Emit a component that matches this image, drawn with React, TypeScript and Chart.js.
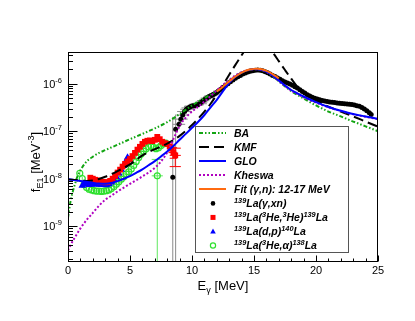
import React, { useEffect, useRef } from "react";
import { Chart, registerables } from "chart.js";

Chart.register(...registerables);

const W = 415;
const H = 321;
const FONT = "'Liberation Sans', Arial, Helvetica, sans-serif";

// ---------------- axis definitions ----------------
const xMin = 0;
const xMax = 25;
const yMin = 1.76e-10;
const yMax = 4.67e-6;
const xMajorTicks = [0, 5, 10, 15, 20, 25];
const xMajorLabels = ["0", "5", "10", "15", "20", "25"];
const xMinorTicks = [1, 2, 3, 4, 6, 7, 8, 9, 11, 12, 13, 14, 16, 17, 18, 19, 21, 22, 23, 24];
const yMajorTicks = [1e-9, 1e-8, 1e-7, 1e-6];
const yMajorLabels = ["10^{-9}", "10^{-8}", "10^{-7}", "10^{-6}"];
const xTitle = "E_{γ} [MeV]";
const yTitle = "f_{E1} [MeV^{-3}]";

// ---------------- model curves ----------------
const baE = [0, 0.1, 0.2, 0.35, 0.5, 0.75, 1.0, 1.5, 2.0, 2.5, 3, 4, 5, 6, 7, 8, 9, 10, 11, 12, 12.5, 13, 13.5, 14, 14.5, 15, 15.5, 16, 16.5, 17, 17.5, 18, 19, 20, 21, 22, 23, 24, 25];
const baF = [1.5e-9, 2.3e-9, 3.3e-9, 4.9e-9, 6.8e-9, 1.1e-8, 1.5e-8, 2.3e-8, 2.9e-8, 3.5e-8, 4.0e-8, 5.2e-8, 6.8e-8, 8.8e-8, 1.15e-7, 1.55e-7, 2.3e-7, 3.5e-7, 5.0e-7, 7.0e-7, 9.0e-7, 1.15e-6, 1.45e-6, 1.72e-6, 1.92e-6, 2.02e-6, 1.98e-6, 1.78e-6, 1.45e-6, 1.12e-6, 8.8e-7, 7.0e-7, 4.9e-7, 3.5e-7, 2.6e-7, 2.05e-7, 1.6e-7, 1.27e-7, 1.0e-7];

const kmfE = [0, 0.5, 1, 1.5, 2, 2.5, 3, 3.5, 4, 5, 6, 7, 8, 9, 10, 11, 11.5, 12, 12.5, 13, 13.5, 14, 14.5, 15, 15.5, 16, 16.5, 17, 17.5, 18, 18.5, 19, 19.5, 20, 21, 22, 23, 24, 25];
const kmfF = [9.8e-9, 9.4e-9, 9.1e-9, 9.0e-9, 9.2e-9, 9.9e-9, 1.1e-8, 1.25e-8, 1.45e-8, 2.0e-8, 3.1e-8, 4.2e-8, 5.5e-8, 8.0e-8, 1.35e-7, 2.6e-7, 3.8e-7, 5.9e-7, 9.5e-7, 1.55e-6, 2.5e-6, 4.0e-6, 6.2e-6, 8.0e-6, 8.0e-6, 6.5e-6, 4.6e-6, 3.0e-6, 1.95e-6, 1.28e-6, 8.6e-7, 6.4e-7, 5.2e-7, 4.4e-7, 3.3e-7, 2.6e-7, 2.05e-7, 1.6e-7, 1.25e-7];

const gloE = [0, 0.5, 1, 1.5, 2, 2.5, 3, 3.5, 4, 4.5, 5, 5.5, 6, 6.5, 7, 7.5, 8, 8.5, 9, 9.5, 10, 10.5, 11, 11.5, 12, 12.5, 13, 13.5, 14, 14.5, 15, 15.5, 16, 16.5, 17, 17.5, 18, 18.5, 19, 20, 21, 22, 23, 24, 25];
const gloF = [9.8e-9, 9.4e-9, 9.0e-9, 8.6e-9, 8.2e-9, 7.9e-9, 7.8e-9, 8.1e-9, 8.9e-9, 1.0e-8, 1.13e-8, 1.33e-8, 1.58e-8, 1.92e-8, 2.35e-8, 2.95e-8, 3.75e-8, 4.9e-8, 6.6e-8, 8.8e-8, 1.18e-7, 1.58e-7, 2.2e-7, 3.2e-7, 4.6e-7, 7.0e-7, 1.05e-6, 1.4e-6, 1.72e-6, 1.94e-6, 2.04e-6, 2.0e-6, 1.8e-6, 1.5e-6, 1.17e-6, 9.2e-7, 7.4e-7, 6.3e-7, 5.4e-7, 4.1e-7, 3.25e-7, 2.7e-7, 2.3e-7, 2.05e-7, 1.82e-7];

const khE = [0, 0.25, 0.5, 1, 1.5, 2, 2.5, 3, 3.5, 4, 4.5, 5, 5.5, 6, 6.5, 7, 7.5, 8, 8.5, 9, 9.5, 10, 10.5, 11, 11.5, 12, 12.5, 13, 13.5, 14, 14.5, 15, 15.5, 16, 16.5, 17, 17.5, 18, 18.5, 19, 20, 21, 22, 23, 24, 25];
const khF = [3.1e-10, 4.2e-10, 5.5e-10, 9.0e-10, 1.35e-9, 1.9e-9, 2.7e-9, 3.6e-9, 4.4e-9, 5.4e-9, 6.5e-9, 7.8e-9, 9.3e-9, 1.12e-8, 1.35e-8, 1.7e-8, 2.3e-8, 3.6e-8, 6.8e-8, 1.3e-7, 1.95e-7, 2.6e-7, 3.3e-7, 4.2e-7, 5.5e-7, 7.3e-7, 9.5e-7, 1.2e-6, 1.5e-6, 1.75e-6, 1.93e-6, 2.02e-6, 1.98e-6, 1.78e-6, 1.48e-6, 1.15e-6, 9.0e-7, 7.2e-7, 6.1e-7, 5.2e-7, 4.0e-7, 3.2e-7, 2.68e-7, 2.28e-7, 2.02e-7, 1.8e-7];

const fitE = [12, 12.25, 12.5, 12.75, 13, 13.25, 13.5, 13.75, 14, 14.25, 14.5, 14.75, 15, 15.25, 15.5, 15.75, 16, 16.25, 16.5, 16.75, 17];
const fitF = [6.9e-7, 7.7e-7, 8.7e-7, 9.9e-7, 1.12e-6, 1.27e-6, 1.42e-6, 1.57e-6, 1.72e-6, 1.85e-6, 1.95e-6, 2.02e-6, 2.06e-6, 2.07e-6, 2.04e-6, 1.97e-6, 1.87e-6, 1.74e-6, 1.6e-6, 1.45e-6, 1.3e-6];

// ---------------- data sets ----------------
// 139La(gamma,xn)
const xnE = [8.45, 8.68, 8.95, 9.1, 9.25, 9.4, 9.55, 9.7, 9.85, 10.0, 10.15, 10.3, 10.45, 10.6, 10.75, 10.9, 11.05, 11.2, 11.35, 11.5, 11.65, 11.8, 11.95, 12.1,
  12.3, 12.5, 12.7, 12.9, 13.1, 13.3, 13.5, 13.7, 13.9, 14.1, 14.3, 14.5, 14.7, 14.9, 15.1, 15.3, 15.5, 15.7, 15.9, 16.1, 16.3, 16.5, 16.7, 16.9, 17.1, 17.3, 17.5, 17.7, 17.9, 18.1, 18.3, 18.5, 18.7, 18.9, 19.1, 19.3, 19.5, 19.7, 19.9, 20.1, 20.3, 20.5, 20.7, 20.9, 21.1, 21.3, 21.5, 21.7, 21.9, 22.1, 22.3, 22.5, 22.7, 22.9, 23.1, 23.3, 23.5, 23.7, 23.9, 24.1, 24.3, 24.45];
const xnF = [1.07e-8, 1.1e-7, 1.4e-7, 1.8e-7, 2.2e-7, 2.6e-7, 2.9e-7, 3.1e-7, 3.3e-7, 3.4e-7, 3.45e-7, 3.5e-7, 3.6e-7, 3.8e-7, 4.1e-7, 4.4e-7, 4.7e-7, 5.0e-7, 5.3e-7, 5.6e-7, 5.8e-7, 6.1e-7, 6.5e-7, 7.0e-7,
  7.6e-7, 8.3e-7, 9.2e-7, 1.0e-6, 1.1e-6, 1.2e-6, 1.3e-6, 1.4e-6, 1.5e-6, 1.6e-6, 1.68e-6, 1.76e-6, 1.83e-6, 1.88e-6, 1.92e-6, 1.94e-6, 1.92e-6, 1.87e-6, 1.79e-6, 1.7e-6, 1.6e-6, 1.5e-6, 1.42e-6, 1.33e-6, 1.24e-6, 1.16e-6, 1.09e-6, 1.04e-6, 9.9e-7, 9.3e-7, 8.7e-7, 8.1e-7, 7.5e-7, 6.9e-7, 6.4e-7, 5.9e-7, 5.5e-7, 5.2e-7, 4.95e-7, 4.75e-7, 4.6e-7, 4.45e-7, 4.35e-7, 4.25e-7, 4.15e-7, 4.1e-7, 4.05e-7, 3.95e-7, 3.9e-7, 3.85e-7, 3.8e-7, 3.75e-7, 3.7e-7, 3.65e-7, 3.55e-7, 3.45e-7, 3.35e-7, 3.15e-7, 2.95e-7, 2.7e-7, 2.45e-7, 2.25e-7];
// errors of the first points (listed in order)
const xnSig = [1.9e-7, 1.15e-7, 3e-8, 3.5e-8, 4e-8, 4.5e-8, 5e-8, 5e-8, 5.5e-8, 5.5e-8, 5.5e-8, 5.5e-8, 6e-8, 6e-8, 6.5e-8, 7e-8, 7e-8, 7.5e-8, 8e-8, 8e-8, 8.5e-8, 9e-8, 9e-8, 1e-7];
const xnDx = [0, 0, 0.5, 0.55, 0.5, 0.6, 0.5, 0.55, 0.5, 0.6, 0.5, 0.55, 0.5, 0.6, 0.5, 0.5, 0.45, 0.5, 0.45, 0.5, 0.45, 0.4, 0.4, 0.4];

// 139La(3He,3He)139La
const heE = [1.8, 2.0, 2.2, 2.4, 2.6, 2.8, 3.0, 3.2, 3.4, 3.6, 3.8, 4.0, 4.2, 4.4, 4.6, 4.8, 5.0, 5.2, 5.4, 5.6, 5.8, 6.0, 6.2, 6.4, 6.6, 6.8, 7.0, 7.2, 7.4, 7.6, 7.8, 8.0, 8.2, 8.35, 8.5, 8.65];
const heF = [1.05e-8, 1.0e-8, 9.5e-9, 9.2e-9, 8.8e-9, 8.6e-9, 8.4e-9, 8.5e-9, 9.0e-9, 1.0e-8, 1.15e-8, 1.35e-8, 1.55e-8, 1.8e-8, 2.05e-8, 2.3e-8, 2.6e-8, 3.0e-8, 3.5e-8, 4.1e-8, 4.7e-8, 5.4e-8, 6.0e-8, 6.3e-8, 6.4e-8, 6.2e-8, 6.6e-8, 7.6e-8, 6.8e-8, 6.0e-8, 5.6e-8, 5.4e-8, 4.8e-8, 4.3e-8, 3.6e-8, 3.1e-8];
const heSig = [1.2e-9, 1.1e-9, 1.0e-9, 1.0e-9, 1.0e-9, 1.0e-9, 1.0e-9, 1.0e-9, 1.1e-9, 1.2e-9, 1.4e-9, 1.6e-9, 1.8e-9, 2.1e-9, 2.4e-9, 2.7e-9, 3.0e-9, 3.4e-9, 4.0e-9, 4.6e-9, 5.2e-9, 6.0e-9, 6.6e-9, 7.0e-9, 7.2e-9, 7.0e-9, 7.5e-9, 8.5e-9, 8.0e-9, 7.5e-9, 7.0e-9, 7.0e-9, 7.0e-9, 7.5e-9, 9.0e-9, 1.3e-8];
const heDx = [0, 0, 0, 0, 0, 0, 0, 0, 0, 0, 0, 0, 0, 0, 0, 0, 0, 0, 0, 0, 0, 0, 0, 0, 0, 0, 0, 0, 0, 0, 0, 0, 0, 0.25, 0.3, 0.45];

// 139La(d,p)140La
const dpE = [1.15, 1.3, 1.5, 1.7, 1.9, 2.1, 2.3, 2.5, 2.7, 2.9, 3.1, 3.3, 3.5, 3.7, 3.9, 4.1, 4.3, 4.5, 4.65, 4.8, 4.95];
const dpF = [7.2e-9, 7.8e-9, 7.6e-9, 7.4e-9, 7.5e-9, 7.7e-9, 7.6e-9, 7.5e-9, 7.5e-9, 7.4e-9, 7.3e-9, 7.7e-9, 8.4e-9, 9.5e-9, 1.1e-8, 1.3e-8, 1.55e-8, 1.9e-8, 2.3e-8, 2.8e-8, 2.5e-8];
const dpSig = [6e-10, 6e-10, 6e-10, 6e-10, 6e-10, 6e-10, 6e-10, 6e-10, 6e-10, 6e-10, 6e-10, 6e-10, 7e-10, 8e-10, 9e-10, 1.1e-9, 1.3e-9, 1.6e-9, 2.0e-9, 2.5e-9, 2.5e-9];

// 139La(3He,alpha)138La
const alE = [0.95, 1.15, 1.3, 1.5, 1.7, 1.9, 2.1, 2.3, 2.5, 2.7, 2.9, 3.1, 3.3, 3.5, 3.7, 3.9, 4.1, 4.3, 4.5, 4.7, 4.9, 5.1, 5.3, 5.5, 5.7, 5.9, 6.1, 6.3, 6.5, 6.7, 6.9, 7.1, 7.3, 7.5, 7.7, 7.9, 7.2];
const alF = [1.3e-8, 1.0e-8, 7.5e-9, 6.5e-9, 6.0e-9, 5.8e-9, 5.6e-9, 5.5e-9, 5.5e-9, 5.4e-9, 5.5e-9, 5.6e-9, 5.8e-9, 6.2e-9, 6.8e-9, 7.6e-9, 8.6e-9, 9.8e-9, 1.1e-8, 1.25e-8, 1.4e-8, 1.6e-8, 1.9e-8, 2.3e-8, 2.8e-8, 3.3e-8, 3.8e-8, 4.3e-8, 4.7e-8, 4.8e-8, 4.6e-8, 4.3e-8, 4.5e-8, 5.0e-8, 5.4e-8, 5.6e-8, 1.15e-8];
const alSig = [1.3e-9, 1.0e-9, 8e-10, 7e-10, 6e-10, 6e-10, 6e-10, 6e-10, 6e-10, 6e-10, 6e-10, 6e-10, 6e-10, 7e-10, 7e-10, 8e-10, 9e-10, 1.0e-9, 1.1e-9, 1.3e-9, 1.4e-9, 1.6e-9, 1.9e-9, 2.3e-9, 2.8e-9, 3.3e-9, 3.8e-9, 4.3e-9, 4.7e-9, 4.8e-9, 4.6e-9, 4.3e-9, 4.5e-9, 5.0e-9, 5.4e-9, 5.6e-9, 1.4e-8];
const alDx = [0, 0, 0, 0, 0, 0, 0, 0, 0, 0, 0, 0, 0, 0, 0, 0, 0, 0, 0, 0, 0, 0, 0, 0, 0, 0, 0, 0, 0, 0, 0, 0, 0, 0, 0, 0, 0.45];

// ---------------- legend ----------------
const legendLabels = ["BA", "KMF", "GLO", "Kheswa", "Fit (γ,n): 12-17 MeV", "^{139}La(γ,xn)", "^{139}La(^{3}He,^{3}He)^{139}La", "^{139}La(d,p)^{140}La", "^{139}La(^{3}He,α)^{138}La"];

// ---------------- styles ----------------
const C_BA = "#12a512";
const C_KMF = "#000000";
const C_GLO = "#0000ff";
const C_KH = "#b000c0";
const C_FIT = "#ff6a10";
const C_XN = "#000000";
const C_HE = "#ff0000";
const C_DP = "#0000ff";
const C_AL = "#2fe02f";
const D_BA = [4, 2, 1.5, 2, 1.5, 2];
const D_KMF = [10, 5];
const D_KH = [2, 2];

function pts(xs: number[], ys: number[]) {
  return xs.map((x, i) => ({ x, y: ys[i] }));
}

type Seg = { t: string; k: "n" | "sup" | "sub" };
function parseRich(s: string): Seg[] {
  const out: Seg[] = [];
  let i = 0;
  let buf = "";
  while (i < s.length) {
    const c = s[i];
    if ((c === "^" || c === "_") && s[i + 1] === "{") {
      if (buf) { out.push({ t: buf, k: "n" }); buf = ""; }
      const end = s.indexOf("}", i + 2);
      out.push({ t: s.slice(i + 2, end), k: c === "^" ? "sup" : "sub" });
      i = end + 1;
    } else {
      buf += c;
      i++;
    }
  }
  if (buf) out.push({ t: buf, k: "n" });
  return out;
}

function drawRich(ctx: CanvasRenderingContext2D, s: string, x: number, y: number, size: number, style: string, align: "left" | "center" | "right", color = "#000", supRaise = 0.42, subDrop = 0.28, scale = 0.7) {
  const segs = parseRich(s);
  const font = (sz: number) => `${style} ${sz}px ${FONT}`;
  let w = 0;
  const widths = segs.map((g) => {
    ctx.font = font(g.k === "n" ? size : size * scale);
    const m = ctx.measureText(g.t).width;
    w += m;
    return m;
  });
  let cx = align === "left" ? x : align === "center" ? x - w / 2 : x - w;
  ctx.textAlign = "left";
  ctx.textBaseline = "alphabetic";
  ctx.fillStyle = color;
  const base = y + size * 0.36;
  segs.forEach((g, i) => {
    const sz = g.k === "n" ? size : size * scale;
    ctx.font = font(sz);
    const yy = g.k === "sup" ? base - size * supRaise : g.k === "sub" ? base + size * subDrop : base;
    ctx.fillText(g.t, cx, yy);
    cx += widths[i];
  });
}

const errorBarPlugin = {
  id: "errorBars",
  beforeDatasetsDraw(chart: any) {
    const { ctx, chartArea: a } = chart;
    const xs = chart.scales.x;
    const ys = chart.scales.y;
    ctx.save();
    ctx.beginPath();
    ctx.rect(a.left, a.top, a.right - a.left, a.bottom - a.top);
    ctx.clip();
    chart.data.datasets.forEach((ds: any) => {
      if (!ds.errSig) return;
      ctx.strokeStyle = ds.errColor;
      ctx.lineWidth = 1;
      ds.data.forEach((p: any, i: number) => {
        const s = ds.errSig[i] || 0;
        const dx = (ds.errDx && ds.errDx[i]) || 0;
        const px = xs.getPixelForValue(p.x);
        const py = ys.getPixelForValue(p.y);
        ctx.beginPath();
        if (s > 0) {
          const hi = p.y + s;
          const lo = p.y - s;
          const yHi = ys.getPixelForValue(hi);
          const yLo = lo > yMin ? ys.getPixelForValue(lo) : a.bottom - 0.5;
          ctx.moveTo(px, yLo);
          ctx.lineTo(px, yHi);
          if (ds.errCaps && dx > 0) {
            const x0 = xs.getPixelForValue(p.x - dx);
            const x1 = xs.getPixelForValue(p.x + dx);
            ctx.moveTo(x0, yHi);
            ctx.lineTo(x1, yHi);
            ctx.moveTo(x0, yLo);
            ctx.lineTo(x1, yLo);
          }
        }
        if (dx > 0) {
          ctx.moveTo(xs.getPixelForValue(p.x - dx), py);
          ctx.lineTo(xs.getPixelForValue(p.x + dx), py);
        }
        ctx.stroke();
      });
    });
    ctx.restore();
  },
};

const axesPlugin = {
  id: "rootAxes",
  afterDatasetsDraw(chart: any) {
    const { ctx, chartArea: a } = chart;
    const xs = chart.scales.x;
    const ys = chart.scales.y;
    ctx.save();
    ctx.strokeStyle = "#000";
    ctx.lineWidth = 1;
    ctx.strokeRect(a.left + 0.5, a.top + 0.5, a.right - a.left - 1, a.bottom - a.top - 1);
    ctx.beginPath();
    const bx = a.bottom - 0.5;
    xMajorTicks.forEach((v) => {
      const px = Math.round(xs.getPixelForValue(v)) + 0.5;
      ctx.moveTo(px, bx);
      ctx.lineTo(px, bx - 6);
    });
    xMinorTicks.forEach((v) => {
      const px = Math.round(xs.getPixelForValue(v)) + 0.5;
      ctx.moveTo(px, bx);
      ctx.lineTo(px, bx - 3);
    });
    const lx = a.left + 0.5;
    yMajorTicks.forEach((v) => {
      const py = Math.round(ys.getPixelForValue(v)) + 0.5;
      ctx.moveTo(lx, py);
      ctx.lineTo(lx + 9, py);
    });
    for (let e = -10; e <= -6; e++) {
      for (let m = 2; m <= 9; m++) {
        const v = m * Math.pow(10, e);
        if (v <= yMin || v >= yMax) continue;
        const py = Math.round(ys.getPixelForValue(v)) + 0.5;
        ctx.moveTo(lx, py);
        ctx.lineTo(lx + 4.5, py);
      }
    }
    ctx.stroke();

    // tick labels
    ctx.fillStyle = "#000";
    ctx.font = `11px ${FONT}`;
    ctx.textAlign = "center";
    ctx.textBaseline = "middle";
    xMajorTicks.forEach((v, i) => {
      ctx.fillText(xMajorLabels[i], xs.getPixelForValue(v), a.bottom + 8.5);
    });
    yMajorTicks.forEach((v, i) => {
      drawRich(ctx, yMajorLabels[i], a.left - 6, ys.getPixelForValue(v), 11, "normal", "right", "#000", 0.45, 0.28, 0.68);
    });

    // titles
    drawRich(ctx, xTitle, (a.left + a.right) / 2, 285, 13, "normal", "center");
    ctx.save();
    ctx.translate(35, 162);
    ctx.rotate(-Math.PI / 2);
    drawRich(ctx, yTitle, 0, 0, 13, "normal", "center");
    ctx.restore();
    ctx.restore();
  },
  afterDraw(chart: any) {
    const ctx: CanvasRenderingContext2D = chart.ctx;
    const L = 195, T = 126, R = 348, B = 252;
    ctx.save();
    ctx.fillStyle = "#fff";
    ctx.fillRect(L + 0.5, T + 0.5, R - L, B - T);
    ctx.strokeStyle = "#555";
    ctx.lineWidth = 1;
    ctx.strokeRect(L + 0.5, T + 0.5, R - L, B - T);
    const rowY = (i: number) => 133.3 + i * 14.02;
    const lineSpec: [string, number[]][] = [[C_BA, D_BA], [C_KMF, D_KMF], [C_GLO, []], [C_KH, D_KH], [C_FIT, []]];
    lineSpec.forEach(([col, dash], i) => {
      const y = Math.round(rowY(i));
      ctx.beginPath();
      ctx.strokeStyle = col;
      ctx.lineWidth = 2;
      ctx.setLineDash(dash);
      ctx.moveTo(199, y);
      ctx.lineTo(226, y);
      ctx.stroke();
    });
    ctx.setLineDash([]);
    const mx = 213;
    // markers
    let y = rowY(5);
    ctx.fillStyle = C_XN;
    ctx.beginPath();
    ctx.arc(mx, y, 2.3, 0, Math.PI * 2);
    ctx.fill();
    y = rowY(6);
    ctx.fillStyle = C_HE;
    ctx.fillRect(mx - 2.5, y - 2.5, 5, 5);
    y = rowY(7);
    ctx.fillStyle = C_DP;
    ctx.beginPath();
    ctx.moveTo(mx, y - 3);
    ctx.lineTo(mx + 2.8, y + 2);
    ctx.lineTo(mx - 2.8, y + 2);
    ctx.closePath();
    ctx.fill();
    y = rowY(8);
    ctx.strokeStyle = C_AL;
    ctx.lineWidth = 1.2;
    ctx.beginPath();
    ctx.arc(mx, y, 2.6, 0, Math.PI * 2);
    ctx.stroke();

    legendLabels.forEach((t, i) => {
      drawRich(ctx, t, 234, rowY(i), 10.5, "italic bold", "left", "#000", 0.42, 0.28, 0.7);
    });
    ctx.restore();
  },
};

export default function App() {
  const ref = useRef<HTMLCanvasElement>(null);
  useEffect(() => {
    document.body.style.margin = "0";
    const curve = (label: string, E: number[], F: number[], color: string, dash: number[], order: number) => ({
      label,
      data: pts(E, F),
      showLine: true,
      borderColor: color,
      backgroundColor: color,
      borderWidth: 2,
      borderDash: dash,
      pointRadius: 0,
      fill: false,
      cubicInterpolationMode: "monotone",
      order,
      clip: 0,
    });
    const chart = new Chart(ref.current as HTMLCanvasElement, {
      type: "scatter",
      data: {
        datasets: [
          curve("Fit (γ,n): 12-17 MeV", fitE, fitF, C_FIT, [], 0),
          curve("GLO", gloE, gloF, C_GLO, [], 1),
          curve("Kheswa", khE, khF, C_KH, D_KH, 2),
          curve("KMF", kmfE, kmfF, C_KMF, D_KMF, 3),
          curve("BA", baE, baF, C_BA, D_BA, 4),
          {
            label: "139La(γ,xn)",
            data: pts(xnE, xnF),
            showLine: false,
            pointStyle: "circle",
            pointRadius: 2.5,
            backgroundColor: C_XN,
            borderColor: C_XN,
            borderWidth: 0,
            order: 5,
            errSig: xnSig,
            errDx: xnDx,
            errColor: "#8a8a8a",
            errCaps: false,
          } as any,
          {
            label: "139La(3He,3He)139La",
            data: pts(heE, heF),
            showLine: false,
            pointStyle: "rect",
            pointRadius: 4.1,
            backgroundColor: C_HE,
            borderColor: C_HE,
            borderWidth: 0,
            order: 6,
            errSig: heSig,
            errDx: heDx,
            errColor: C_HE,
            errCaps: true,
          } as any,
          {
            label: "139La(d,p)140La",
            data: pts(dpE, dpF),
            showLine: false,
            pointStyle: "triangle",
            pointRadius: 4.3,
            backgroundColor: C_DP,
            borderColor: C_DP,
            borderWidth: 0,
            order: 7,
            errSig: dpSig,
            errColor: C_DP,
            errCaps: false,
          } as any,
          {
            label: "139La(3He,α)138La",
            data: pts(alE, alF),
            showLine: false,
            pointStyle: "circle",
            pointRadius: 3.0,
            backgroundColor: "rgba(0,0,0,0)",
            borderColor: C_AL,
            borderWidth: 1.2,
            order: 8,
            errSig: alSig,
            errDx: alDx,
            errColor: "#5fe85f",
            errCaps: true,
          } as any,
        ],
      },
      options: {
        animation: false,
        responsive: false,
        devicePixelRatio: 1,
        events: [],
        layout: { padding: { left: 68, right: 37, top: 52, bottom: 59 } },
        scales: {
          x: { type: "linear", min: xMin, max: xMax, display: false },
          y: { type: "logarithmic", min: yMin, max: yMax, display: false },
        },
        plugins: { legend: { display: false }, tooltip: { enabled: false } },
      } as any,
      plugins: [errorBarPlugin, axesPlugin],
    });
    return () => chart.destroy();
  }, []);
  return (
    <div style={{ position: "absolute", left: 0, top: 0, width: W, height: H, background: "#fff" }}>
      <canvas ref={ref} width={W} height={H} style={{ display: "block", width: W, height: H }} />
    </div>
  );
}
